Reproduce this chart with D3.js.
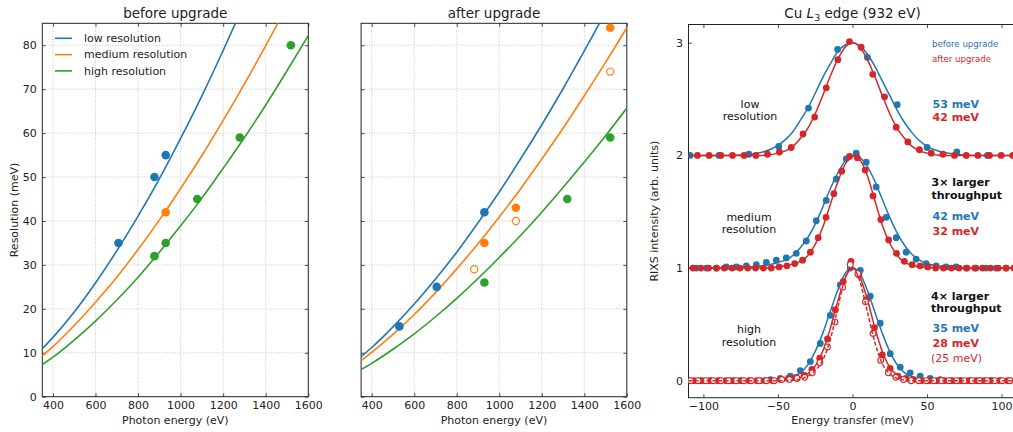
<!DOCTYPE html>
<html><head><meta charset="utf-8">
<script src="https://cdn.jsdelivr.net/npm/d3@7"></script>
<style>body{margin:0;background:#fff}svg{font-family:"DejaVu Sans",sans-serif}</style>
</head><body><svg id="c" width="1013" height="432"></svg>
<script>
// ---------- data: resolution vs photon energy ----------
const energyTicks = [400,600,800,1000,1200,1400,1600];
const resTicks = [0,10,20,30,40,50,60,70,80];
const energyGrid = [350,400,500,600,700,800,900,1000,1100,1200,1300,1400,1500,1600];
const beforeLowFit  = [10.9,13.5,19.3,25.9,33.2,41.1,49.6,58.8,68.5,78.8,89.6,100.8,112.7,125];
const beforeMedFit  = [9.3,11.4,16.2,21.5,27.2,33.5,40.2,47.4,54.9,62.9,71.2,79.9,88.9,98.2];
const beforeHighFit = [7.3,9.0,12.9,17.2,22.0,27.2,32.9,38.9,45.2,52.0,59.0,66.4,74.2,82.2];
const afterLowFit   = [9.1,11.2,15.9,21.1,26.8,32.9,39.6,46.6,54.1,61.9,70.1,78.7,87.6,96.9];
const afterMedFit   = [8.2,10.1,14.2,18.7,23.7,29.1,34.8,40.9,47.3,54.1,61.1,68.5,76.1,84.0];
const afterHighFit  = [6.2,7.6,10.8,14.3,18.2,22.4,26.9,31.7,36.7,42.0,47.6,53.4,59.4,65.7];
const beforeLowE = [708,877,930],  beforeLowR = [35,50,55];
const beforeMedE = [930],          beforeMedR = [42];
const beforeHighE = [877,930,1078,1278,1518], beforeHighR = [32,35,45,59,80];
const afterLowE = [530,706,930],   afterLowR = [16,25,42];
const afterMedE = [930,1078,1522], afterMedR = [35,43,84];
const afterMedOpenE = [882,1078,1522], afterMedOpenR = [29,40,74];
const afterHighE = [930,1320,1522], afterHighR = [26,45,59];
const legendLabels = ["low resolution","medium resolution","high resolution"];

// ---------- data: Cu L3 RIXS spectra ----------
const transferTicks = [-100,-50,0,50,100];
const intensityTicks = [0,1,2,3];
const lineX = [-110,-100,-90,-80,-70,-60,-50,-45,-40,-35,-30,-25,-20,-15,-10,-5,0,5,10,15,20,25,30,35,40,45,50,60,70,80,90,100,110];
// low resolution (offset 2)
const lowBlueX = [-109,-89.5,-69.5,-49.5,-29.5,-10,10,30,50,70,90.5,110];
const lowBlueY = [2.0,2.0,2.01,2.08,2.42,2.94,2.87,2.45,2.07,2.03,2.0,2.0];
const lowBlueFit = [2.0,2.0,2.0,2.0,2.01,2.03,2.09,2.14,2.21,2.31,2.42,2.55,2.69,2.81,2.92,2.98,3.0,2.97,2.90,2.79,2.66,2.53,2.40,2.29,2.20,2.13,2.08,2.03,2.01,2.0,2.0,2.0,2.0];
const lowRedX = [-104,-96.2,-88.3,-80.5,-72.7,-64.8,-57,-49,-41.1,-33.2,-25.4,-17.6,-9.8,-2,5.8,13.6,21.5,29.3,37.1,44.9,52.8,60.6,68.4,76.3,84.1,91.9,99.7,107.5];
const lowRedY = [2.0,2.0,2.0,2.0,2.0,2.0,2.01,2.03,2.07,2.19,2.34,2.60,2.85,3.01,2.96,2.72,2.52,2.25,2.12,2.05,2.02,2.01,2.0,2.0,2.0,2.0,2.0,2.0];
const lowRedFit = [2.0,2.0,2.0,2.0,2.0,2.0,2.02,2.04,2.08,2.15,2.24,2.37,2.53,2.70,2.85,2.96,3.0,2.96,2.85,2.70,2.53,2.37,2.24,2.15,2.08,2.04,2.02,2.0,2.0,2.0,2.0,2.0,2.0];
// medium resolution (offset 1)
const medBlueX = [-104.7,-98,-91.3,-84.6,-77.9,-71.2,-64.5,-57.8,-51.1,-44.4,-37.7,-31,-24.3,-17.6,-10.9,-4.2,2.5,9.2,15.9,22.6,29.3,36,42.7,49.4,56.1,62.8,69.5,76.2,82.9,89.6,96.3,103,109.7];
const medBlueY = [1.0,1.0,1.0,1.01,1.01,1.02,1.03,1.05,1.07,1.09,1.13,1.24,1.42,1.60,1.79,1.97,2.02,1.94,1.72,1.45,1.27,1.14,1.08,1.04,1.02,1.01,1.01,1.0,1.0,1.0,1.0,1.0,1.0];
const medBlueFit = [1.0,1.0,1.0,1.005,1.01,1.02,1.05,1.07,1.11,1.18,1.27,1.39,1.54,1.70,1.84,1.95,2.0,1.98,1.90,1.77,1.61,1.45,1.31,1.20,1.12,1.07,1.04,1.015,1.005,1.0,1.0,1.0,1.0];
const medRedX = [-107,-101.75,-96.5,-91.25,-86,-80.75,-75.5,-70.25,-65,-59.75,-54.5,-49.25,-44,-38.75,-33.5,-28.25,-23,-17.75,-12.5,-7.25,-2,3.25,8.5,13.75,19,24.25,29.5,34.75,40,45.25,50.5,55.75,61,66.25,71.5,76.75,82,87.25,92.5,97.75,103,108.25];
const medRedY = [1.0,1.0,1.0,1.0,1.0,1.0,1.0,1.0,1.0,1.0,1.0,1.01,1.02,1.04,1.07,1.14,1.27,1.45,1.66,1.86,1.99,1.98,1.87,1.64,1.43,1.25,1.13,1.06,1.03,1.02,1.01,1.0,1.0,1.0,1.0,1.0,1.0,1.0,1.0,1.0,1.0,1.0];
const medRedFit = [1.0,1.0,1.0,1.0,1.0,1.0,1.01,1.02,1.035,1.06,1.11,1.21,1.36,1.56,1.76,1.92,1.995,1.96,1.82,1.60,1.38,1.22,1.11,1.05,1.025,1.01,1.005,1.0,1.0,1.0,1.0,1.0,1.0];
// high resolution (offset 0)
const highBlueX = [-108.7,-102,-95.3,-88.6,-81.9,-75.2,-68.5,-61.8,-55.1,-48.4,-41.7,-35,-28.3,-21.6,-14.9,-8.2,-1.5,5.2,11.9,18.6,25.3,32,38.7,45.4,52.1,58.8,65.5,72.2,78.9,85.6,92.3,99,105.7];
const highBlueY = [0,0,0,0,0,0,0,0.0,0.01,0.02,0.04,0.09,0.17,0.33,0.58,0.85,1.0,0.98,0.75,0.51,0.24,0.12,0.07,0.04,0.02,0.01,0,0,0,0,0,0,0];
const highBlueFit = [0,0,0,0,0,0.002,0.007,0.015,0.035,0.07,0.14,0.26,0.42,0.61,0.80,0.95,1.0,0.95,0.80,0.61,0.42,0.26,0.14,0.07,0.035,0.015,0.007,0.002,0,0,0,0,0];
const highRedX = [-106,-100.75,-95.5,-90.25,-85,-79.75,-74.5,-69.25,-64,-58.75,-53.5,-48.25,-43,-37.75,-32.5,-27.25,-22,-16.75,-11.5,-6.25,-1,4.25,9.5,14.75,20,25.25,30.5,35.75,41,46.25,51.5,56.75,62,67.25,72.5,77.75,83,88.25,93.5,98.75,104];
const highRedY = [0,0,0,0,0,0,0,0,0,0,0.0,0.01,0.02,0.03,0.05,0.10,0.20,0.37,0.63,0.88,1.06,0.94,0.72,0.47,0.23,0.11,0.04,0.02,0.01,0.0,0,0,0,0,0,0,0,0,0,0,0];
const highRedFit = [0,0,0,0,0,0,0.005,0.01,0.015,0.03,0.06,0.13,0.26,0.46,0.70,0.91,1.0,0.92,0.72,0.47,0.26,0.12,0.05,0.02,0.01,0.003,0,0,0,0,0,0,0];
const highOpenX = [-108.6,-103.5,-98.4,-93.3,-88.2,-83.1,-78,-72.9,-67.8,-62.7,-57.6,-52.5,-47.4,-42.3,-37.2,-32.1,-27,-21.9,-16.8,-11.7,-6.6,-1.5,3.6,8.7,13.8,18.9,24,29.1,34.2,39.3,44.4,49.5,54.6,59.7,64.8,69.9,75,80.1,85.2,90.3,95.4,100.5,105.6];
const highOpenY = [0,0,0,0,0,0,0,0,0,0,0.0,0.0,0.01,0.01,0.02,0.03,0.07,0.16,0.30,0.52,0.83,1.03,0.95,0.70,0.42,0.18,0.07,0.03,0.01,0.0,0.0,0.0,0,0,0,0,0,0,0,0,0,0,0];
const highOpenFit = [0,0,0,0,0,0,0,0.003,0.005,0.015,0.04,0.09,0.18,0.36,0.64,0.91,1.0,0.88,0.61,0.34,0.15,0.06,0.02,0.005,0,0,0,0,0,0,0,0,0];

// ---------- styling ----------
const C = {blue:"#1f77b4", orange:"#ff7f0e", green:"#2ca02c", rblue:"#1f77b4", red:"#d62728"};
const svg = d3.select("#c");
const TICK = 3.5;

function frame(g, x, y, P, xt, yt, opts) {
  if (opts.grid) {
    const gg = g.append("g");
    gg.selectAll(".gx").data(xt.filter(v => x(v) > P.l + 0.5 && x(v) < P.r - 0.5)).join("line")
      .attr("x1", d => x(d)).attr("x2", d => x(d)).attr("y1", P.t).attr("y2", P.b)
      .attr("stroke", "#b8b8b8").attr("stroke-width", 0.8).attr("stroke-dasharray", "1,1.6");
    gg.selectAll(".gy").data(yt.filter(v => y(v) > P.t + 0.5 && y(v) < P.b - 0.5)).join("line")
      .attr("y1", d => y(d)).attr("y2", d => y(d)).attr("x1", P.l).attr("x2", P.r)
      .attr("stroke", "#b8b8b8").attr("stroke-width", 0.8).attr("stroke-dasharray", "1,1.6");
  }
  const ax = (axis, tx, ty, labels) => {
    const a = g.append("g").attr("transform", `translate(${tx},${ty})`).call(axis);
    a.select(".domain").remove();
    a.selectAll("line").attr("stroke", "#222").attr("stroke-width", 0.8);
    a.selectAll("text").attr("font-size", "11px").attr("fill", "#222").attr("font-family", "DejaVu Sans");
    if (!labels) a.selectAll("text").remove();
    return a;
  };
  ax(d3.axisBottom(x).tickValues(xt).tickSizeInner(-TICK).tickSizeOuter(0).tickPadding(4.5).tickFormat(opts.xfmt || d3.format("d")), 0, P.b, true);
  ax(d3.axisTop(x).tickValues(xt).tickSizeInner(-TICK).tickSizeOuter(0), 0, P.t, false);
  ax(d3.axisLeft(y).tickValues(yt).tickSizeInner(-TICK).tickSizeOuter(0).tickPadding(5.5).tickFormat(d3.format("d")), P.l, 0, opts.ylabels);
  ax(d3.axisRight(y).tickValues(yt).tickSizeInner(-TICK).tickSizeOuter(0), P.r, 0, false);
  g.append("rect").attr("x", P.l).attr("y", P.t).attr("width", P.r - P.l).attr("height", P.b - P.t)
    .attr("fill", "none").attr("stroke", "#222").attr("stroke-width", 1);
}

// ---------- resolution panels ----------
function resPanel(P, id, title, fits, pts, ylabels, legend) {
  const x = d3.scaleLinear().domain([350, 1600]).range([P.l, P.r]);
  const y = d3.scaleLinear().domain([0, 85]).range([P.b, P.t]);
  const g = svg.append("g");
  g.append("clipPath").attr("id", id).append("rect")
    .attr("x", P.l).attr("y", P.t).attr("width", P.r - P.l).attr("height", P.b - P.t);
  frame(g, x, y, P, energyTicks, resTicks, {grid: true, ylabels});
  const line = d3.line().x(d => x(d[0])).y(d => y(d[1])).curve(d3.curveMonotoneX);
  const pl = g.append("g").attr("clip-path", `url(#${id})`);
  fits.forEach(f => pl.append("path").datum(energyGrid.map((e, i) => [e, f.v[i]]))
    .attr("d", line).attr("fill", "none").attr("stroke", f.c).attr("stroke-width", 1.6));
  pts.forEach(p => pl.append("g").selectAll("circle").data(p.E.map((e, i) => [e, p.R[i]])).join("circle")
    .attr("cx", d => x(d[0])).attr("cy", d => y(d[1])).attr("r", p.open ? 3.6 : 4.3)
    .attr("fill", p.open ? "#fff" : p.c).attr("stroke", p.open ? p.c : "none").attr("stroke-width", 1.2));
  g.append("text").attr("x", (P.l + P.r) / 2).attr("y", 17.5).attr("text-anchor", "middle")
    .attr("font-size", "13.5px").attr("fill", "#222").text(title);
  g.append("text").attr("x", (P.l + P.r) / 2).attr("y", 424).attr("text-anchor", "middle")
    .attr("font-size", "11px").attr("fill", "#222").text("Photon energy (eV)");
  if (legend) {
    legend.forEach((L, i) => {
      const yy = 38.3 + i * 16.3;
      g.append("line").attr("x1", 55).attr("x2", 72).attr("y1", yy).attr("y2", yy)
        .attr("stroke", L.c).attr("stroke-width", 1.6);
      g.append("text").attr("x", 84).attr("y", yy).attr("dy", "0.35em").attr("font-size", "11px")
        .attr("fill", "#222").text(L.t);
    });
  }
}

const P1 = {l: 42.3, r: 308.3, t: 23.3, b: 396.7};
const P2 = {l: 361.1, r: 626.8, t: 23.3, b: 396.7};
const P3 = {l: 688.5, r: 1016.5, t: 24.5, b: 397.7};

resPanel(P1, "clip1", "before upgrade",
  [{v: beforeLowFit, c: C.blue}, {v: beforeMedFit, c: C.orange}, {v: beforeHighFit, c: C.green}],
  [{E: beforeLowE, R: beforeLowR, c: C.blue}, {E: beforeMedE, R: beforeMedR, c: C.orange}, {E: beforeHighE, R: beforeHighR, c: C.green}],
  true, legendLabels.map((t, i) => ({t, c: [C.blue, C.orange, C.green][i]})));
svg.append("text").attr("transform", `translate(14,${(P1.t + P1.b) / 2}) rotate(-90)`).attr("text-anchor", "middle")
  .attr("dy", "0.35em").attr("font-size", "11px").attr("fill", "#222").text("Resolution (meV)");

resPanel(P2, "clip2", "after upgrade",
  [{v: afterLowFit, c: C.blue}, {v: afterMedFit, c: C.orange}, {v: afterHighFit, c: C.green}],
  [{E: afterLowE, R: afterLowR, c: C.blue}, {E: afterMedE, R: afterMedR, c: C.orange},
   {E: afterMedOpenE, R: afterMedOpenR, c: C.orange, open: true}, {E: afterHighE, R: afterHighR, c: C.green}],
  false, null);

// ---------- RIXS panel ----------
(function () {
  const P = P3;
  const x = d3.scaleLinear().domain([-110, 110]).range([P.l, P.r]);
  const y = d3.scaleLinear().domain([-0.151, 3.162]).range([P.b, P.t]);
  const g = svg.append("g");
  g.append("clipPath").attr("id", "clip3").append("rect")
    .attr("x", P.l).attr("y", P.t).attr("width", P.r - P.l).attr("height", P.b - P.t);
  frame(g, x, y, P, transferTicks, intensityTicks, {grid: false, ylabels: true, xfmt: d3.format("d")});
  const pl = g.append("g").attr("clip-path", "url(#clip3)");
  const line = d3.line().x(d => x(d[0])).y(d => y(d[1])).curve(d3.curveMonotoneX);
  const pts = (X, Y, c, open) => pl.append("g").selectAll("circle").data(X.map((v, i) => [v, Y[i]])).join("circle")
    .attr("cx", d => x(d[0])).attr("cy", d => y(d[1])).attr("r", open ? 2.9 : 3.4)
    .attr("fill", open ? "#fff" : c).attr("stroke", open ? c : "none").attr("stroke-width", 1.1);
  const fit = (V, c, dash) => pl.append("path").datum(lineX.map((v, i) => [v, V[i]])).attr("d", line)
    .attr("fill", "none").attr("stroke", c).attr("stroke-width", 1.5).attr("stroke-dasharray", dash || null);
  // low
  pts(lowBlueX, lowBlueY, C.rblue); fit(lowBlueFit, C.rblue);
  pts(lowRedX, lowRedY, C.red); fit(lowRedFit, C.red);
  // medium
  pts(medBlueX, medBlueY, C.rblue); fit(medBlueFit, C.rblue);
  pts(medRedX, medRedY, C.red); fit(medRedFit, C.red);
  // high
  pts(highBlueX, highBlueY, C.rblue); fit(highBlueFit, C.rblue);
  pts(highRedX, highRedY, C.red); fit(highRedFit, C.red);
  pts(highOpenX, highOpenY, C.red, true); fit(highOpenFit, C.red, "4,2");

  g.append("text").attr("x", (P.l + P.r) / 2).attr("y", 17.5).attr("text-anchor", "middle")
    .attr("font-size", "13.5px").attr("fill", "#222")
    .call(t => { t.append("tspan").text("Cu ");
                 t.append("tspan").attr("font-style", "italic").text("L");
                 t.append("tspan").attr("font-size", "9.5px").attr("dy", "3").text("3");
                 t.append("tspan").attr("dy", "-3").text(" edge (932 eV)"); });
  g.append("text").attr("x", (P.l + P.r) / 2).attr("y", 424).attr("text-anchor", "middle")
    .attr("font-size", "11px").attr("fill", "#222").text("Energy transfer (meV)");
  svg.append("text").attr("transform", `translate(654,${(P.t + P.b) / 2}) rotate(-90)`).attr("text-anchor", "middle")
    .attr("dy", "0.35em").attr("font-size", "11px").attr("fill", "#222").text("RIXS intensity (arb. units)");

  const T = (xx, yy, s, o) => g.append("text").attr("x", xx).attr("y", yy).attr("dy", "0.35em")
    .attr("font-size", (o.size || 11) + "px").attr("font-weight", o.bold ? "bold" : "normal")
    .attr("text-anchor", o.anchor || "start").attr("fill", o.c || "#111").text(s);
  T(750, 104, "low", {anchor: "middle"}); T(750, 116.5, "resolution", {anchor: "middle"});
  T(749, 216.7, "medium", {anchor: "middle"}); T(749, 229.2, "resolution", {anchor: "middle"});
  T(749, 329.3, "high", {anchor: "middle"}); T(749, 341.8, "resolution", {anchor: "middle"});
  T(932, 43.7, "before upgrade", {size: 8.6, c: C.rblue});
  T(932, 59, "after upgrade", {size: 8.6, c: C.red});
  T(932.5, 104, "53 meV", {bold: true, c: C.rblue});
  T(932.5, 117.3, "42 meV", {bold: true, c: C.red});
  T(931.5, 182.3, "3\u00d7 larger", {bold: true, c: "#111"});
  T(931.5, 195, "throughput", {bold: true, c: "#111"});
  T(932.5, 215.7, "42 meV", {bold: true, c: C.rblue});
  T(932.5, 231, "32 meV", {bold: true, c: C.red});
  T(931, 296, "4\u00d7 larger", {bold: true, c: "#111"});
  T(931, 308.5, "throughput", {bold: true, c: "#111"});
  T(932.5, 328.3, "35 meV", {bold: true, c: C.rblue});
  T(932.5, 343.3, "28 meV", {bold: true, c: C.red});
  T(931, 358.3, "(25 meV)", {c: C.red});
})();
</script></body></html>
